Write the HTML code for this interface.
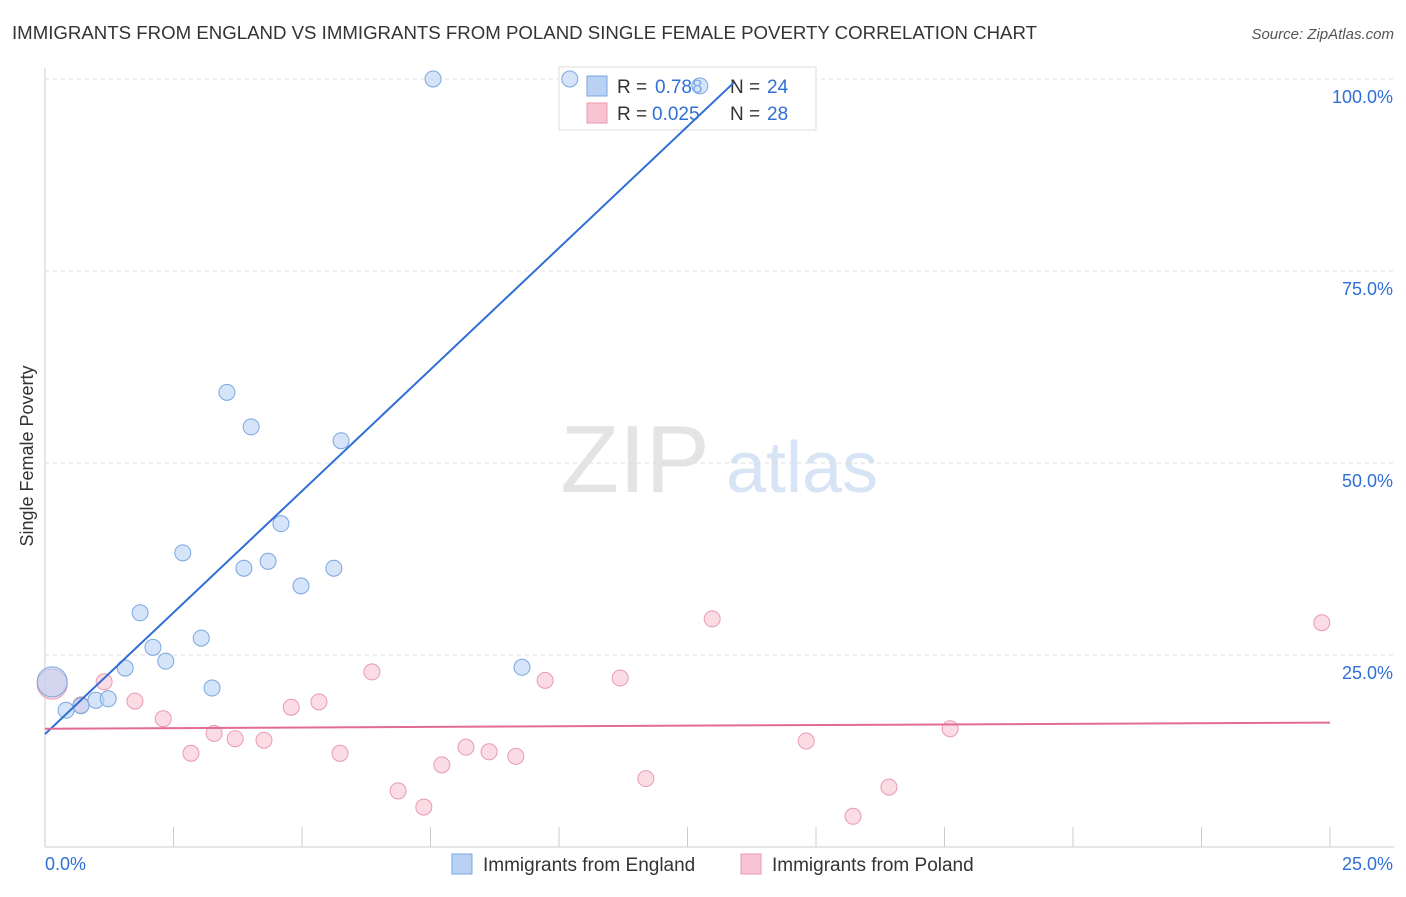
<!DOCTYPE html>
<html><head><meta charset="utf-8"><style>
body{margin:0;background:#fff;font-family:"Liberation Sans",sans-serif;}
svg text{font-family:"Liberation Sans",sans-serif;}
</style></head><body>
<svg id="c" width="1406" height="892" xmlns="http://www.w3.org/2000/svg">
<text x="12" y="39" font-size="18" fill="#333" textLength="1025" lengthAdjust="spacingAndGlyphs">IMMIGRANTS FROM ENGLAND VS IMMIGRANTS FROM POLAND SINGLE FEMALE POVERTY CORRELATION CHART</text>
<text x="1394" y="39" font-size="15" fill="#555" text-anchor="end" font-style="italic">Source: ZipAtlas.com</text>
<text x="0" y="0" transform="translate(33,456) rotate(-90)" font-size="18" fill="#333" text-anchor="middle">Single Female Poverty</text>
<text x="635" y="492" font-size="96" fill="#e4e4e4" text-anchor="middle" font-family="Liberation Serif">ZIP</text>
<text x="802" y="492" font-size="72" fill="#d6e4f5" text-anchor="middle">atlas</text>
<g id="grid"></g>
<g>
<rect x="559" y="67" width="257" height="63" fill="#fff" stroke="#ddd"/>
<rect x="587" y="76" width="20" height="20" fill="#b9d2f3" stroke="#7aa7e0"/>
<text x="617" y="93" font-size="19" fill="#333">R =</text>
<text x="655" y="93" font-size="19" fill="#2f6fd6">0.788</text>
<text x="730" y="93" font-size="19" fill="#333">N =</text>
<text x="767" y="93" font-size="19" fill="#2f6fd6">24</text>
<rect x="587" y="103" width="20" height="20" fill="#f8c4d4" stroke="#e89ab2"/>
<text x="617" y="120" font-size="19" fill="#333">R =</text>
<text x="652" y="120" font-size="19" fill="#2f6fd6">0.025</text>
<text x="730" y="120" font-size="19" fill="#333">N =</text>
<text x="767" y="120" font-size="19" fill="#2f6fd6">28</text>
</g>
<g id="marks"></g>
<g>
<rect x="452" y="854" width="20" height="20" fill="#b9d2f3" stroke="#7aa7e0"/>
<text x="483" y="871" font-size="19" fill="#333">Immigrants from England</text>
<rect x="741" y="854" width="20" height="20" fill="#f8c4d4" stroke="#e89ab2"/>
<text x="772" y="871" font-size="19" fill="#333">Immigrants from Poland</text>
</g>
</svg>
<script>
const englandX=[0.14,0.41,0.70,0.99,1.23,1.56,1.85,2.10,2.35,2.68,3.04,3.25,3.54,3.87,4.01,4.34,4.59,4.98,5.62,5.76,7.55,9.28,10.21,12.74];
const englandY=[21.5,17.8,18.4,19.1,19.3,23.3,30.5,26.0,24.2,38.3,27.2,20.7,59.2,36.3,54.7,37.2,42.1,34.0,36.3,52.9,100,23.4,100,99.1];
const polandX=[0.14,0.70,1.15,1.75,2.30,2.84,3.29,3.70,4.26,4.79,5.33,5.74,6.36,6.87,7.37,7.72,8.19,8.64,9.16,9.73,11.19,11.69,12.98,14.81,15.72,16.42,17.61,24.84];
const polandY=[21.2,18.5,21.5,19.0,16.7,12.2,14.8,14.1,13.9,18.2,18.9,12.2,22.8,7.3,5.2,10.7,13.0,12.4,11.8,21.7,22.0,8.9,29.7,13.8,4.0,7.8,15.4,29.2];
const englandTrend=[14.7,6.33];
const polandTrend=[15.4,0.032];
const yTicks=[25,50,75,100];
const xTickCount=10;
const NS="http://www.w3.org/2000/svg";
const sx=v=>45+v/25*1285, sy=v=>847-v/25*192;
function mk(t,a,p){const e=document.createElementNS(NS,t);for(const k in a)e.setAttribute(k,a[k]);p.appendChild(e);return e;}
const g=document.getElementById('grid'), m=document.getElementById('marks');
let ax=mk('line',{x1:45,y1:68,x2:45,y2:847,stroke:'#ccc'},g);


let bx=mk('line',{x1:45,y1:847,x2:1394,y2:847,stroke:'#ccc'},g);


yTicks.forEach(t=>{
 let l=mk('line',{x1:45,x2:1394,y1:sy(t),y2:sy(t),stroke:'#ddd','stroke-dasharray':'4,4'},g);
 
 
 let tx=mk('text',{x:1393,y:sy(t)+24,'font-size':18,fill:'#2f6fd6','text-anchor':'end'},g);tx.textContent=t.toFixed(1)+'%';
 
 
});
for(let i=1;i<=xTickCount;i++){let l=mk('line',{x1:sx(i*2.5),x2:sx(i*2.5),y1:827,y2:847,stroke:'#ccc'},g);
 
 }
let x0=mk('text',{x:45,y:870,'font-size':18,fill:'#2f6fd6'},g);x0.textContent='0.0%';


let x1=mk('text',{x:1393,y:870,'font-size':18,fill:'#2f6fd6','text-anchor':'end'},g);x1.textContent='25.0%';


function pts(X,Y,fill,stroke,name){X.forEach((x,i)=>{let c=mk('circle',{cx:sx(x),cy:sy(Y[i]),r:i==0?15:8,fill:fill,'fill-opacity':0.6,stroke:stroke,'stroke-width':1},m);
 
 });}
pts(polandX,polandY,'#f8c4d4','#e89ab2','poland-point');
pts(englandX,englandY,'#b9d2f3','#7aa7e0','england-point');
let xe=13.4;
let bl=mk('line',{x1:sx(0),y1:sy(englandTrend[0]),x2:sx(xe),y2:sy(englandTrend[0]+englandTrend[1]*xe),stroke:'#2f6fd6','stroke-width':2},m);


let pl=mk('line',{x1:sx(0),y1:sy(polandTrend[0]),x2:sx(25),y2:sy(polandTrend[0]+polandTrend[1]*25),stroke:'#e26b95','stroke-width':2},m);


</script>
</body></html>
